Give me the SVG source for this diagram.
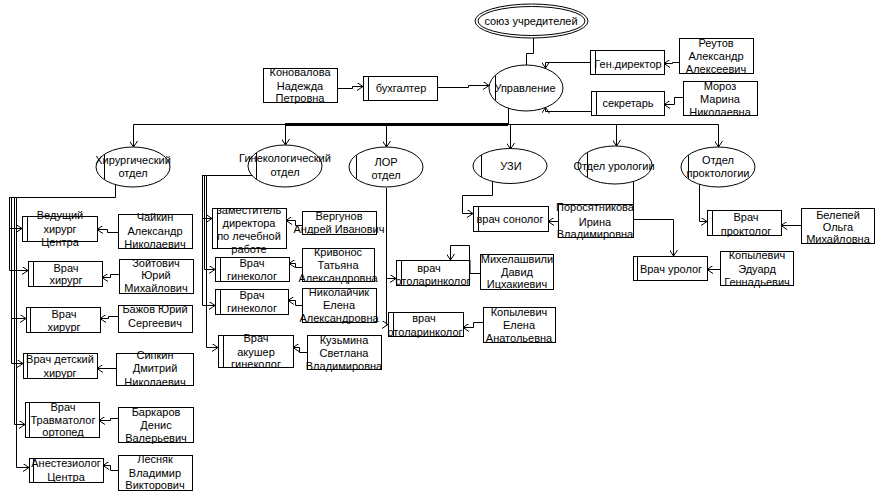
<svg xmlns="http://www.w3.org/2000/svg" width="876" height="493" viewBox="0 0 876 493">
<style>
text{font-family:"Liberation Sans",Arial,sans-serif;font-size:11px;fill:#000;text-anchor:middle}
.b{fill:#fff;stroke:#000;stroke-width:1}
.e{fill:#fff;stroke:#000;stroke-width:1}
.l{fill:none;stroke:#000;stroke-width:1}
.c path{fill:none;stroke:#000;stroke-width:1}
.a{marker-end:url(#ar)}
</style>
<defs>
<marker id="ar" viewBox="0 0 6 8" refX="6" refY="4" markerWidth="6" markerHeight="8" markerUnits="userSpaceOnUse" orient="auto">
<path d="M0,0 L6,4 L0,8" fill="none" stroke="#000" stroke-width="1"/>
</marker>
</defs>
<rect width="876" height="493" fill="#fff"/>

<g class="c" id="connectors">
<path d="M533.5,38 V53.5 H526.5 V65"/>
<path class="a" d="M337,88.5 H352.5 V86.5 H363"/>
<path class="a" d="M437,87.5 H468.5 V85.5 H489"/>
<path class="a" d="M679,62.5 H672.5 V63.5 H664"/>
<path class="a" d="M590,62.5 H545.5 V68"/>
<path class="a" d="M683,97.5 H674.5 V104.5 H664"/>
<path class="a" d="M591,111.5 H545.5 V107.5"/>
<path d="M508.5,108 V124.5"/>
<path d="M133.5,124.5 H718.5"/>
<path d="M285,124.5 H508" style="stroke-width:3"/>
<path class="a" d="M133.5,124.5 V147"/>
<path class="a" d="M285.5,124.5 V145"/>
<path class="a" d="M386.5,124.5 V147"/>
<path class="a" d="M510.5,124.5 V149"/>
<path class="a" d="M616.5,124.5 V146"/>
<path class="a" d="M718.5,124.5 V147"/>
<!-- surgical tree -->
<path d="M115.5,184 V197.5 H9"/>
<path d="M9.5,197.5 V270.5"/>
<path d="M11.5,197.5 V363.5"/>
<path d="M14.5,197.5 V424.5"/>
<path d="M16.5,197.5 V467.5"/>
<path class="a" d="M9.5,228.5 H22"/>
<path class="a" d="M9.5,270.5 H28"/>
<path class="a" d="M11.5,318.5 H26"/>
<path class="a" d="M11.5,363.5 H23"/>
<path class="a" d="M14.5,424.5 H25"/>
<path class="a" d="M16.5,467.5 H29"/>
<path class="a" d="M118,232.5 H107.5 V229.5 H97"/>
<path class="a" d="M119,274.5 H110.5 V277.5 H102"/>
<path class="a" d="M118,316.5 H108.5 V318.5 H100"/>
<path class="a" d="M116,368.5 H97"/>
<path class="a" d="M118,418.5 H110.5 V420.5 H99"/>
<path class="a" d="M118,470.5 H110.5 V465.5 H103"/>
<!-- gyn tree -->
<path d="M252,175.5 H202"/>
<path d="M202.5,175.5 V305.5"/>
<path d="M204.5,175.5 V269.5"/>
<path d="M206.5,175.5 V347.5"/>
<path class="a" d="M202.5,218.5 H212"/>
<path class="a" d="M204.5,269.5 H215"/>
<path class="a" d="M202.5,305.5 H215"/>
<path class="a" d="M206.5,347.5 H218"/>
<path class="a" d="M302,225.5 H295.5 V220.5 H286"/>
<path class="a" d="M302,267.5 H295.5 V263.5 H289"/>
<path class="a" d="M302,305.5 H295.5 V300.5 H288"/>
<path class="a" d="M307,352.5 H299.5 V347.5 H293"/>
<!-- LOR -->
<path d="M386.5,188 V324.5"/>
<path class="a" d="M386.5,278.5 H396"/>
<path class="a" d="M386.5,324.5 H388"/>
<path class="a" d="M480,273.5 H469.5 V245.5 H450.5 V260"/>
<path d="M469.5,260 V273.5" style="stroke-width:2"/>
<path class="a" d="M483,322.5 H473.5 V327.5 H463"/>
<!-- USI / uro / procto -->
<path class="a" d="M492.5,182 V195.5 H462.5 V213.5 H473"/>
<path class="a" d="M558,221.5 H548"/>
<path class="a" d="M633.5,182 V219.5 H673.5 V256"/>
<path class="a" d="M720,269.5 H707"/>
<path class="a" d="M699.5,184 V221.5 H707"/>
<path class="a" d="M801,225.5 H781"/>
</g>

<g id="soyuz">
<ellipse class="e" cx="531.5" cy="21" rx="56.5" ry="17"/>
<ellipse class="e" cx="531.5" cy="21" rx="53.5" ry="14.5"/>
<text x="531" y="25">союз учредителей</text>
</g>
<g id="upravlenie">
<ellipse class="e" cx="526" cy="88" rx="37" ry="23"/>
<path class="l" d="M495.5,75.5 V100.5"/>
<text x="525" y="92">Управление</text>
</g>
<g id="konovalova">
<rect class="b" x="263.5" y="68.5" width="74" height="34"/>
<text x="300" y="76">Коновалова</text><text x="300" y="90">Надежда</text><text x="300" y="102">Петровна</text>
</g>
<g id="buhgalter">
<rect class="b" x="363.5" y="76.5" width="74" height="24"/>
<path class="l" d="M368.5,76.5 V100.5"/>
<text x="401" y="92">бухгалтер</text>
</g>
<g id="gendirektor">
<rect class="b" x="590.5" y="50.5" width="74" height="24"/>
<path class="l" d="M595.5,50.5 V74.5"/>
<text x="628" y="68">Ген.директор</text>
</g>
<g id="reutov">
<rect class="b" x="679.5" y="38.5" width="74" height="35"/>
<text x="716" y="47">Реутов</text><text x="716" y="60">Александр</text><text x="716" y="73">Алексеевич</text>
</g>
<g id="sekretar">
<rect class="b" x="591.5" y="91.5" width="73" height="24"/>
<path class="l" d="M596.5,91.5 V115.5"/>
<text x="628" y="107">секретарь</text>
</g>
<g id="moroz">
<rect class="b" x="683.5" y="81.5" width="74" height="34"/>
<text x="720" y="90">Мороз</text><text x="720" y="103">Марина</text><text x="720" y="116">Николаевна</text>
</g>

<g id="hirurg-otdel">
<ellipse class="e" cx="133" cy="167" rx="37" ry="20"/>
<path class="l" d="M104.5,154.6 V179.4"/>
<text x="133" y="164">Хирургический</text><text x="133" y="177">отдел</text>
</g>
<g id="ginek-otdel">
<ellipse class="e" cx="285" cy="166" rx="37" ry="21"/>
<path class="l" d="M256.5,153 V179"/>
<text x="285" y="162">Гинекологический</text><text x="285" y="176">отдел</text>
</g>
<g id="lor-otdel">
<ellipse class="e" cx="386" cy="167" rx="37" ry="20"/>
<path class="l" d="M356.5,155.3 V178.7"/>
<text x="386" y="166">ЛОР</text><text x="386" y="179">отдел</text>
</g>
<g id="uzi-otdel">
<ellipse class="e" cx="510" cy="166" rx="37" ry="17.5"/>
<path class="l" d="M481.5,155.1 V176.9"/>
<text x="511" y="170">УЗИ</text>
</g>
<g id="urolog-otdel">
<ellipse class="e" cx="615" cy="165" rx="37" ry="19"/>
<path class="l" d="M587.5,152.6 V177.4"/>
<text x="614" y="170">Отдел урологии</text>
</g>
<g id="procto-otdel">
<ellipse class="e" cx="718" cy="167" rx="37" ry="20"/>
<path class="l" d="M688.5,155.3 V178.7"/>
<text x="718" y="164">Отдел</text><text x="718" y="177">проктологии</text>
</g>

<g id="vedushiy">
<rect class="b" x="22.5" y="216.5" width="75" height="25"/>
<path class="l" d="M27.5,216.5 V241.5"/>
<text x="60" y="219">Ведущий</text><text x="60" y="233">хирург</text><text x="60" y="246">Центра</text>
</g>
<g id="chaykin">
<rect class="b" x="118.5" y="214.5" width="74" height="34"/>
<text x="155" y="221">Чайкин</text><text x="155" y="235">Александр</text><text x="155" y="248">Николаевич</text>
</g>
<g id="hirurg1">
<rect class="b" x="28.5" y="261.5" width="74" height="25"/>
<path class="l" d="M33.5,261.5 V286.5"/>
<text x="66" y="272">Врач</text><text x="66" y="284">хирург</text>
</g>
<g id="zoytovich">
<rect class="b" x="119.5" y="259.5" width="74" height="34"/>
<text x="156" y="267">Зойтович</text><text x="156" y="279">Юрий</text><text x="156" y="292">Михайлович</text>
</g>
<g id="hirurg2">
<rect class="b" x="26.5" y="307.5" width="74" height="25"/>
<path class="l" d="M30.5,307.5 V332.5"/>
<text x="64" y="318">Врач</text><text x="64" y="331">хирург</text>
</g>
<g id="bazhov">
<rect class="b" x="118.5" y="305.5" width="74" height="27"/>
<text x="155" y="313">Бажов Юрий</text><text x="155" y="327">Сергеевич</text>
</g>
<g id="detskiy">
<rect class="b" x="23.5" y="353.5" width="74" height="25"/>
<path class="l" d="M27.5,353.5 V378.5"/>
<text x="60" y="363">Врач детский</text><text x="60" y="377">хирург</text>
</g>
<g id="sipkin">
<rect class="b" x="116.5" y="353.5" width="77" height="32"/>
<text x="155" y="359">Сипкин</text><text x="155" y="372">Дмитрий</text><text x="155" y="386">Николаевич</text>
</g>
<g id="travmatolog">
<rect class="b" x="25.5" y="402.5" width="74" height="35"/>
<path class="l" d="M29.5,402.5 V437.5"/>
<text x="63" y="411">Врач</text><text x="63" y="424">Травматолог</text><text x="63" y="436">ортопед</text>
</g>
<g id="barkarov">
<rect class="b" x="118.5" y="407.5" width="75" height="35"/>
<text x="156" y="416">Баркаров</text><text x="156" y="429">Денис</text><text x="156" y="442">Валерьевич</text>
</g>
<g id="anesteziolog">
<rect class="b" x="29.5" y="458.5" width="74" height="24"/>
<path class="l" d="M33.5,458.5 V482.5"/>
<text x="66" y="467">Анестезиолог</text><text x="66" y="481">Центра</text>
</g>
<g id="lesnyak">
<rect class="b" x="118.5" y="455.5" width="74" height="35"/>
<text x="155" y="463">Лесняк</text><text x="155" y="477">Владимир</text><text x="155" y="489">Викторович</text>
</g>

<g id="zamestitel">
<rect class="b" x="212.5" y="208.5" width="74" height="40"/>
<path class="l" d="M217.5,208.5 V248.5"/>
<text x="249" y="214">заместитель</text><text x="249" y="227">директора</text><text x="249" y="240">по лечебной</text><text x="249" y="253">работе</text>
</g>
<g id="vergunov">
<rect class="b" x="302.5" y="211.5" width="74" height="23"/>
<text x="339" y="220">Вергунов</text><text x="339" y="233">Андрей Иванович</text>
</g>
<g id="ginekolog1">
<rect class="b" x="215.5" y="257.5" width="74" height="24"/>
<path class="l" d="M220.5,257.5 V281.5"/>
<text x="252" y="267">Врач</text><text x="252" y="280">гинеколог</text>
</g>
<g id="krivonos">
<rect class="b" x="302.5" y="248.5" width="72" height="33"/>
<text x="338" y="256">Кривонос</text><text x="338" y="269">Татьяна</text><text x="338" y="282">Александровна</text>
</g>
<g id="ginekolog2">
<rect class="b" x="215.5" y="289.5" width="73" height="25"/>
<path class="l" d="M220.5,289.5 V314.5"/>
<text x="252" y="299">Врач</text><text x="252" y="312">гинеколог</text>
</g>
<g id="nikolaychik">
<rect class="b" x="302.5" y="288.5" width="74" height="34"/>
<text x="339" y="296">Николайчик</text><text x="339" y="309">Елена</text><text x="339" y="322">Александровна</text>
</g>
<g id="akusher">
<rect class="b" x="218.5" y="335.5" width="75" height="32"/>
<path class="l" d="M223.5,335.5 V367.5"/>
<text x="256" y="342">Врач</text><text x="256" y="356">акушер</text><text x="256" y="368">гинеколог</text>
</g>
<g id="kuzmina">
<rect class="b" x="307.5" y="335.5" width="74" height="34"/>
<text x="344" y="344">Кузьмина</text><text x="344" y="357">Светлана</text><text x="344" y="370">Владимировна</text>
</g>

<g id="otolaring1">
<rect class="b" x="396.5" y="260.5" width="73" height="25"/>
<path class="l" d="M401.5,260.5 V285.5"/>
<text x="429" y="272">врач</text><text x="433" y="285">отоларинколог</text>
</g>
<g id="mihelashvili">
<rect class="b" x="480.5" y="254.5" width="73" height="35"/>
<text x="517" y="263">Михелашвили</text><text x="517" y="276">Давид</text><text x="517" y="288">Ицхакиевич</text>
</g>
<g id="otolaring2">
<rect class="b" x="388.5" y="312.5" width="75" height="24"/>
<path class="l" d="M393.5,312.5 V336.5"/>
<text x="424" y="322">врач</text><text x="425" y="336">отоларинколог</text>
</g>
<g id="kopylevich-e">
<rect class="b" x="483.5" y="307.5" width="72" height="35"/>
<text x="519" y="316">Копылевич</text><text x="519" y="329">Елена</text><text x="519" y="342">Анатольевна</text>
</g>

<g id="sonolog">
<rect class="b" x="473.5" y="206.5" width="75" height="25"/>
<path class="l" d="M478.5,206.5 V231.5"/>
<text x="510" y="223">врач сонолог</text>
</g>
<g id="porosyatnikova">
<rect class="b" x="558.5" y="204.5" width="75" height="33"/>
<text x="595" y="211">Поросятникова</text><text x="595" y="226">Ирина</text><text x="595" y="238">Владимировна</text>
</g>
<g id="urolog">
<rect class="b" x="633.5" y="256.5" width="74" height="24"/>
<path class="l" d="M637.5,256.5 V280.5"/>
<text x="671" y="273">Врач уролог</text>
</g>
<g id="kopylevich-ed">
<rect class="b" x="720.5" y="251.5" width="73" height="34"/>
<text x="757" y="259">Копылевич</text><text x="757" y="273">Эдуард</text><text x="757" y="286">Геннадьевич</text>
</g>
<g id="proktolog">
<rect class="b" x="707.5" y="210.5" width="74" height="25"/>
<path class="l" d="M712.5,210.5 V235.5"/>
<text x="746" y="221">Врач</text><text x="746" y="235">проктолог</text>
</g>
<g id="belepey">
<rect class="b" x="801.5" y="208.5" width="73" height="35"/>
<text x="838" y="219">Белепей</text><text x="838" y="231">Ольга</text><text x="838" y="243">Михайловна</text>
</g>
</svg>
